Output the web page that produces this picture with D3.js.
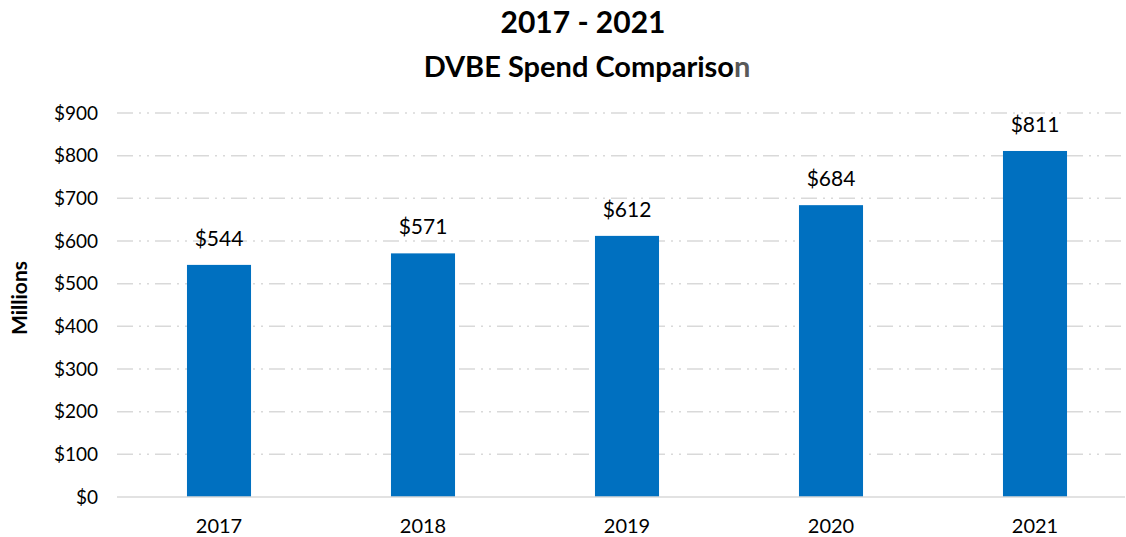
<!DOCTYPE html>
<html>
<head>
<meta charset="utf-8">
<script src="https://cdn.jsdelivr.net/npm/d3@7"></script>
<style>
  body { margin: 0; background: #fff; }
  text { font-family: Lato, "Open Sans", sans-serif; }
</style>
</head>
<body>
<script>
var years = ["2017", "2018", "2019", "2020", "2021"];
var spend = [544, 571, 612, 684, 811];
var yTicks = [0, 100, 200, 300, 400, 500, 600, 700, 800, 900];

var width = 1126, height = 537;
var svg = d3.select("body").append("svg")
    .attr("width", width)
    .attr("height", height);

var x = d3.scaleBand().domain(years).range([117, 1137]).paddingInner(0.686).paddingOuter(0.343);
var y = d3.scaleLinear().domain([0, 900]).range([497, 113]);

// gridlines
svg.append("g")
  .selectAll("line")
  .data(yTicks.filter(function(d) { return d > 0; }))
  .enter().append("line")
  .attr("x1", 117).attr("x2", 1125)
  .attr("y1", function(d) { return y(d); })
  .attr("y2", function(d) { return y(d); })
  .attr("stroke", "#d9d9d9")
  .attr("stroke-width", 1.5)
  .attr("stroke-dasharray", "16,6,2,6,2,6");

// bars
svg.append("g")
  .selectAll("rect")
  .data(spend)
  .enter().append("rect")
  .attr("x", function(d, i) { return x(years[i]); })
  .attr("width", x.bandwidth())
  .attr("y", function(d) { return y(d); })
  .attr("height", function(d) { return y(0) - y(d); })
  .attr("fill", "#0070c0");

// baseline
svg.append("line")
  .attr("x1", 117).attr("x2", 1125)
  .attr("y1", y(0)).attr("y2", y(0))
  .attr("stroke", "#d9d9d9")
  .attr("stroke-width", 1.5);

// value labels
svg.append("g")
  .selectAll("text")
  .data(spend)
  .enter().append("text")
  .attr("x", function(d, i) { return x(years[i]) + x.bandwidth() / 2; })
  .attr("y", function(d) { return y(d) - 19; })
  .attr("text-anchor", "middle")
  .attr("font-size", 21)
  .attr("fill", "#000")
  .text(function(d) { return "$" + d; });

// y axis
var yAxis = d3.axisLeft(y).tickValues(yTicks).tickSize(0).tickPadding(19)
  .tickFormat(function(d) { return "$" + d; });
var yg = svg.append("g").attr("transform", "translate(117,0)").call(yAxis);
yg.select(".domain").remove();
yg.selectAll("text").attr("font-size", 19).attr("fill", "#000")
  .style("font-family", "Lato, 'Open Sans', sans-serif");

// x axis
var xAxis = d3.axisBottom(x).tickSize(0).tickPadding(22);
var xg = svg.append("g").attr("transform", "translate(0," + y(0) + ")").call(xAxis);
xg.select(".domain").remove();
xg.selectAll("text").attr("font-size", 20).attr("fill", "#000")
  .style("font-family", "Lato, 'Open Sans', sans-serif");

// axis title
svg.append("text")
  .attr("transform", "translate(27,298) rotate(-90)")
  .attr("text-anchor", "middle")
  .attr("font-size", 21)
  .attr("font-weight", "bold")
  .text("Millions");

// chart title
svg.append("text")
  .attr("x", 583).attr("y", 33)
  .attr("text-anchor", "middle")
  .attr("font-size", 30)
  .attr("font-weight", "bold")
  .text("2017 - 2021");

var t2 = svg.append("text")
  .attr("x", 587).attr("y", 77)
  .attr("text-anchor", "middle")
  .attr("font-size", 29)
  .attr("font-weight", "bold");
t2.append("tspan").text("DVBE Spend Compariso");
t2.append("tspan").attr("fill", "#595959").text("n");
</script>
</body>
</html>
